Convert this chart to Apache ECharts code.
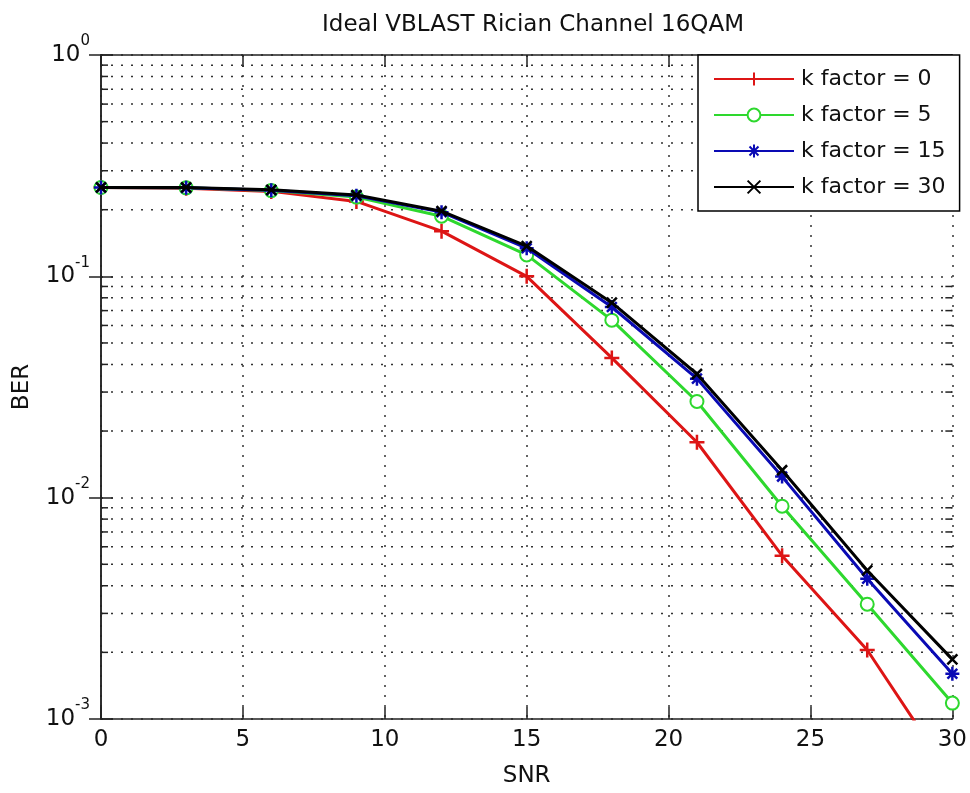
<!DOCTYPE html>
<html><head><meta charset="utf-8">
<script src="https://cdn.jsdelivr.net/npm/echarts@6/dist/echarts.min.js"></script>
<style>html,body{margin:0;padding:0;background:#fff;overflow:hidden}#c{position:fixed;left:0;top:0;width:100vw;height:100vh}</style>
</head><body><div id="c"></div>
<script>
// ---- data ----
const snr = [0, 3, 6, 9, 12, 15, 18, 21, 24, 27, 30];
const berK0  = [0.252, 0.250, 0.242, 0.218, 0.160, 0.100, 0.0428, 0.0178, 0.00547, 0.00205, 0.00054];
const berK5  = [0.252, 0.251, 0.244, 0.228, 0.187, 0.125, 0.0634, 0.0272, 0.00915, 0.0033, 0.00118];
const berK15 = [0.252, 0.251, 0.245, 0.231, 0.195, 0.134, 0.0727, 0.0345, 0.01245, 0.0043, 0.0016];
const berK30 = [0.252, 0.252, 0.246, 0.233, 0.197, 0.137, 0.0760, 0.0362, 0.0133, 0.00469, 0.00186];
const seriesNames = ['k factor = 0', 'k factor = 5', 'k factor = 15', 'k factor = 30'];
const xMin = 0, xMax = 30, xStep = 5;
const yMin = 0.001, yMax = 1;
const minorMultipliers = [2, 3, 4, 5, 6, 7, 8, 9];
const minorDecades = [0.001, 0.01, 0.1];

// ---- styling ----
const FONT = '"DejaVu Sans", "Liberation Sans", Arial, sans-serif';
const FS = 23;
const colors = ['#dd1515', '#2ed82e', '#0a0ab4', '#000000'];
const symbols = [
  'path://M5,0L5,10M0,5L10,5',
  'emptyCircle',
  'path://M5,0L5,10M0,5L10,5M1.5,1.5L8.5,8.5M8.5,1.5L1.5,8.5',
  'path://M0,0L10,10M10,0L0,10'
];
const symbolSizes = [15, 13, 14, 10];
const dataSets = [berK0, berK5, berK15, berK30];

const minorVals = [];
minorDecades.forEach(d => minorMultipliers.forEach(m => minorVals.push([0, m * d])));

const dotted = { color: '#333', width: 1.5, type: [2, 8] };

function yLabel(v) {
  const e = Math.round(Math.log10(v));
  return '{b|10}{s|' + e + '}';
}

const chart = echarts.init(document.getElementById('c'), null, { renderer: 'canvas' });
const lineSeries = dataSets.map((arr, i) => ({
  name: seriesNames[i],
  type: 'line',
  data: snr.map((x, j) => [x, arr[j]]),
  symbol: symbols[i],
  symbolSize: symbolSizes[i],
  showAllSymbol: true,
  clip: true,
  lineStyle: { color: colors[i], width: 3 },
  itemStyle: { color: colors[i], borderColor: colors[i], borderWidth: 2.5 },
  emphasis: { disabled: true },
  z: 3 + i,
  animation: false
}));

chart.setOption({
  animation: false,
  backgroundColor: '#fff',
  textStyle: { fontFamily: FONT },
  title: {
    text: 'Ideal VBLAST Rician Channel 16QAM',
    left: 528, top: 9, textAlign: 'center',
    textStyle: { fontFamily: FONT, fontSize: FS, fontWeight: 'normal', color: '#111' }
  },
  grid: { left: 101, right: 12, top: 55, bottom: 66, containLabel: false },
  legend: {
    orient: 'vertical',
    left: 698, top: 55,
    data: seriesNames,
    itemWidth: 80, itemHeight: 16, itemGap: 12,
    padding: [12, 14, 12, 15],
    backgroundColor: '#fff',
    borderColor: '#000', borderWidth: 1.5, borderRadius: 0,
    textStyle: { fontFamily: FONT, fontSize: 22, color: '#111', lineHeight: 24, padding: [0, 0, 0, 2] },
    z: 20
  },
  xAxis: [{
    type: 'value', min: xMin, max: xMax, interval: xStep,
    name: 'SNR', nameLocation: 'middle', nameGap: 46,
    nameTextStyle: { fontFamily: FONT, fontSize: FS, color: '#111' },
    axisLine: { lineStyle: { color: '#222', width: 1.5 } },
    axisTick: { inside: true, length: 12, lineStyle: { color: '#222', width: 1.5 } },
    axisLabel: { fontFamily: FONT, fontSize: FS, color: '#111', margin: 10 },
    splitLine: { show: true, lineStyle: dotted }
  }, {
    type: 'value', min: xMin, max: xMax, interval: xStep, position: 'top',
    axisLine: { show: true, lineStyle: { color: '#222', width: 1.5 } },
    axisTick: { inside: true, length: 12, lineStyle: { color: '#222', width: 1.5 } },
    axisLabel: { show: false }, splitLine: { show: false }
  }],
  yAxis: [{
    type: 'log', logBase: 10, min: yMin, max: yMax,
    name: 'BER', nameLocation: 'middle', nameGap: 67,
    nameTextStyle: { fontFamily: FONT, fontSize: FS, color: '#111' },
    axisLine: { show: true, lineStyle: { color: '#222', width: 1.5 } },
    axisTick: { inside: true, length: 12, lineStyle: { color: '#222', width: 1.5 } },
    axisLabel: {
      formatter: yLabel, margin: 11,
      rich: {
        b: { fontFamily: FONT, fontSize: FS, color: '#111', lineHeight: 42, verticalAlign: 'middle' },
        s: { fontFamily: FONT, fontSize: 15, color: '#111', lineHeight: 15, verticalAlign: 'top' }
      }
    },
    splitLine: { show: true, lineStyle: dotted }
  }, {
    type: 'log', logBase: 10, min: yMin, max: yMax, position: 'right',
    axisLine: { show: true, lineStyle: { color: '#222', width: 1.5 } },
    axisTick: { inside: true, length: 12, lineStyle: { color: '#222', width: 1.5 } },
    axisLabel: { show: false }, splitLine: { show: false }
  }],
  series: [{
    type: 'custom',
    name: 'minor',
    xAxisIndex: 0, yAxisIndex: 0,
    data: minorVals,
    encode: { x: 0, y: 1 },
    silent: true,
    z: 1,
    renderItem: function (params, api) {
      const v = api.value(1);
      const p0 = api.coord([xMin, v]);
      const p1 = api.coord([xMax, v]);
      return {
        type: 'group',
        children: [
          { type: 'line', shape: { x1: p0[0], y1: p0[1], x2: p1[0], y2: p1[1] }, style: { stroke: '#333', lineWidth: 1.5, lineDash: [2, 8] } },
          { type: 'line', shape: { x1: p0[0], y1: p0[1], x2: p0[0] + 7, y2: p0[1] }, style: { stroke: '#222', lineWidth: 1.5 } },
          { type: 'line', shape: { x1: p1[0], y1: p1[1], x2: p1[0] - 7, y2: p1[1] }, style: { stroke: '#222', lineWidth: 1.5 } }
        ]
      };
    }
  }].concat(lineSeries)
});
</script>
</body></html>
